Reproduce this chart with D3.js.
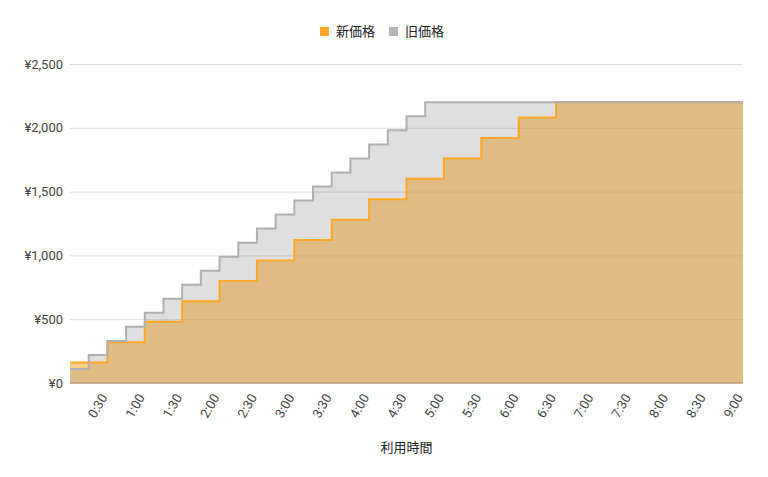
<!DOCTYPE html>
<html>
<head>
<meta charset="utf-8">
<script src="https://cdn.jsdelivr.net/npm/d3@7"></script>
<style>
  body { margin: 0; background: #fff; }
  text { font-family: Roboto, "Noto Sans CJK JP", sans-serif; }
</style>
</head>
<body>
<div id="chart"></div>
<script>
// minutes from start -> price (yen), stepped
var newTimes = [0, 30, 60, 90, 120, 150, 180, 210, 240, 270, 300, 330, 360, 390, 540];
var newPrices = [160, 320, 480, 640, 800, 960, 1120, 1280, 1440, 1600, 1760, 1920, 2080, 2200, 2200];
var oldTimes = [0, 15, 30, 45, 60, 75, 90, 105, 120, 135, 150, 165, 180, 195, 210, 225, 240, 255, 270, 285, 540];
var oldPrices = [110, 220, 330, 440, 550, 660, 770, 880, 990, 1100, 1210, 1320, 1430, 1540, 1650, 1760, 1870, 1980, 2090, 2200, 2200];
var xTickMinutes = [30, 60, 90, 120, 150, 180, 210, 240, 270, 300, 330, 360, 390, 420, 450, 480, 510, 540];
var xTickLabels = ["0:30", "1:00", "1:30", "2:00", "2:30", "3:00", "3:30", "4:00", "4:30", "5:00", "5:30", "6:00", "6:30", "7:00", "7:30", "8:00", "8:30", "9:00"];
var yTicks = [0, 500, 1000, 1500, 2000, 2500];
var seriesNames = ["新価格", "旧価格"];

var width = 768, height = 477;
var plotLeft = 70, plotRight = 743, plotTop = 64, plotBottom = 383;

var svg = d3.select("#chart").append("svg")
    .attr("width", width)
    .attr("height", height);

var x = d3.scaleLinear().domain([0, 540]).range([plotLeft, plotRight]);
var y = d3.scaleLinear().domain([0, 2500]).range([plotBottom, plotTop]);

// gridlines + y labels
var yAxis = d3.axisLeft(y)
    .tickValues(yTicks)
    .tickSize(-(plotRight - plotLeft))
    .tickPadding(7)
    .tickFormat(function (d) { return "¥" + d3.format(",")(d); });
var gy = svg.append("g")
    .attr("transform", "translate(" + plotLeft + ",0)")
    .call(yAxis);
gy.select(".domain").remove();
gy.selectAll("line").attr("stroke", "#dcdcdc");
gy.selectAll("text").attr("fill", "#444").style("font-size", "13px");

var newData = newTimes.map(function (t, i) { return [t, newPrices[i]]; });
var oldData = oldTimes.map(function (t, i) { return [t, oldPrices[i]]; });

var area = d3.area()
    .curve(d3.curveStepAfter)
    .x(function (d) { return x(d[0]); })
    .y0(y(0))
    .y1(function (d) { return y(d[1]); });
var line = d3.line()
    .curve(d3.curveStepAfter)
    .x(function (d) { return x(d[0]); })
    .y(function (d) { return y(d[1]); });

svg.append("path").datum(newData)
    .attr("d", area)
    .attr("fill", "#ffa726")
    .attr("fill-opacity", 0.55);
svg.append("path").datum(oldData)
    .attr("d", area)
    .attr("fill", "#7f7f7f")
    .attr("fill-opacity", 0.25);

// baseline
svg.append("line")
    .attr("x1", plotLeft).attr("x2", plotRight)
    .attr("y1", y(0)).attr("y2", y(0))
    .attr("stroke", "#a88a5e");

svg.append("path").datum(newData)
    .attr("d", line)
    .attr("fill", "none")
    .attr("stroke", "#ffa726")
    .attr("stroke-width", 2);
svg.append("path").datum(oldData)
    .attr("d", line)
    .attr("fill", "none")
    .attr("stroke", "#b0b0b0")
    .attr("stroke-width", 2);

// x tick labels
var xAxis = d3.axisBottom(x)
    .tickValues(xTickMinutes)
    .tickSize(0)
    .tickFormat(function (d, i) { return xTickLabels[i]; });
var gx = svg.append("g")
    .attr("transform", "translate(0," + plotBottom + ")")
    .call(xAxis);
gx.select(".domain").remove();
gx.selectAll("text")
    .attr("fill", "#444")
    .style("font-size", "13px")
    .attr("text-anchor", "end")
    .attr("dy", "0.35em")
    .attr("transform", "translate(-4,12) rotate(-60)")
    .attr("y", 0)
    .attr("x", 0);

// axis title
svg.append("text")
    .attr("x", (plotLeft + plotRight) / 2)
    .attr("y", 452)
    .attr("text-anchor", "middle")
    .attr("fill", "#222")
    .style("font-size", "13px")
    .text("利用時間");

// legend
var legendColors = ["#ffa726", "#b5b5b5"];
var legendX = [320, 389];
var lg = svg.append("g");
seriesNames.forEach(function (name, i) {
    lg.append("rect")
        .attr("x", legendX[i]).attr("y", 27)
        .attr("width", 9).attr("height", 9)
        .attr("fill", legendColors[i]);
    lg.append("text")
        .attr("x", legendX[i] + 16).attr("y", 36)
        .attr("fill", "#222")
        .style("font-size", "13px")
        .text(name);
});
</script>
</body>
</html>
